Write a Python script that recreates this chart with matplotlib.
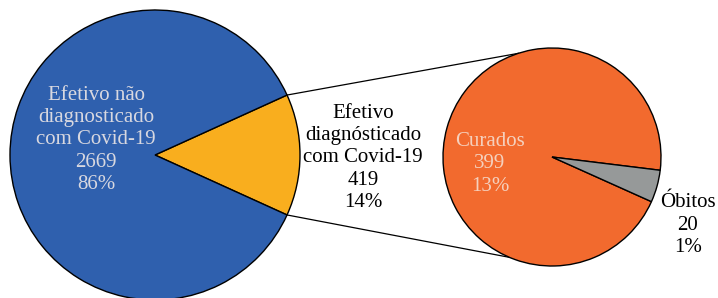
import numpy as np
import matplotlib
matplotlib.use("Agg")
import matplotlib.pyplot as plt

# data
main_labels = ["Efetivo\ndiagnósticado\ncom Covid-19", "Efetivo não\ndiagnosticado\ncom Covid-19"]
main_values = [419, 2669]
sub_labels = ["Curados", "Óbitos"]
sub_values = [399, 20]

main_colors = ["#f9ae1e", "#2f60ae"]
sub_colors = ["#f26a2e", "#969999"]

total = sum(main_values)

plt.rcParams['font.family'] = ['Liberation Serif', 'DejaVu Serif']

fig = plt.figure(figsize=(7.18, 2.98), dpi=100)
ax = fig.add_axes([0, 0, 1, 1])

# left pie
c1 = (155, 143)
r1 = 145
half = main_values[0] / total * 180
ax.pie(main_values, colors=main_colors, startangle=-half, center=c1, radius=r1,
       wedgeprops=dict(edgecolor='black', linewidth=1.0), frame=True)

# right pie
c2 = (552, 141)
r2 = 109
ax.pie(sub_values, colors=sub_colors, startangle=-7, center=c2, radius=r2,
       wedgeprops=dict(edgecolor='black', linewidth=1.0), frame=True)
ax.set_xlim(0, 718)
ax.set_ylim(0, 298)
ax.set_aspect('equal')
ax.axis('off')

# connector lines
for sgn, ang2 in [(1, 108), (-1, 247)]:
    a1 = np.deg2rad(sgn * half)
    a2 = np.deg2rad(ang2)
    x0, y0 = c1[0] + r1 * np.cos(a1), c1[1] + r1 * np.sin(a1)
    x1, y1 = c2[0] + r2 * np.cos(a2), c2[1] + r2 * np.sin(a2)
    ax.plot([x0, x1], [y0, y1], color='black', lw=0.9, zorder=0)

fs = 15
ls = 1.22
pct = lambda v: f"{round(v / total * 100):.0f}%"

ax.text(96, 158, f"{main_labels[1]}\n{main_values[1]}\n{pct(main_values[1])}",
        ha='center', va='center', color='#d8d8e0', fontsize=fs, linespacing=ls)
ax.text(363, 140, f"{main_labels[0]}\n{main_values[0]}\n{pct(main_values[0])}",
        ha='center', va='center', color='black', fontsize=fs, linespacing=ls)
ax.text(490, 134, f"{sub_labels[0]}\n{sub_values[0]}\n{pct(sub_values[0])}",
        ha='center', va='center', color='#f5d0bd', fontsize=fs, linespacing=ls)
ax.text(688, 73, f"{sub_labels[1]}\n{sub_values[1]}\n{pct(sub_values[1])}",
        ha='center', va='center', color='black', fontsize=fs, linespacing=ls)

fig.savefig("out.png", dpi=100)
